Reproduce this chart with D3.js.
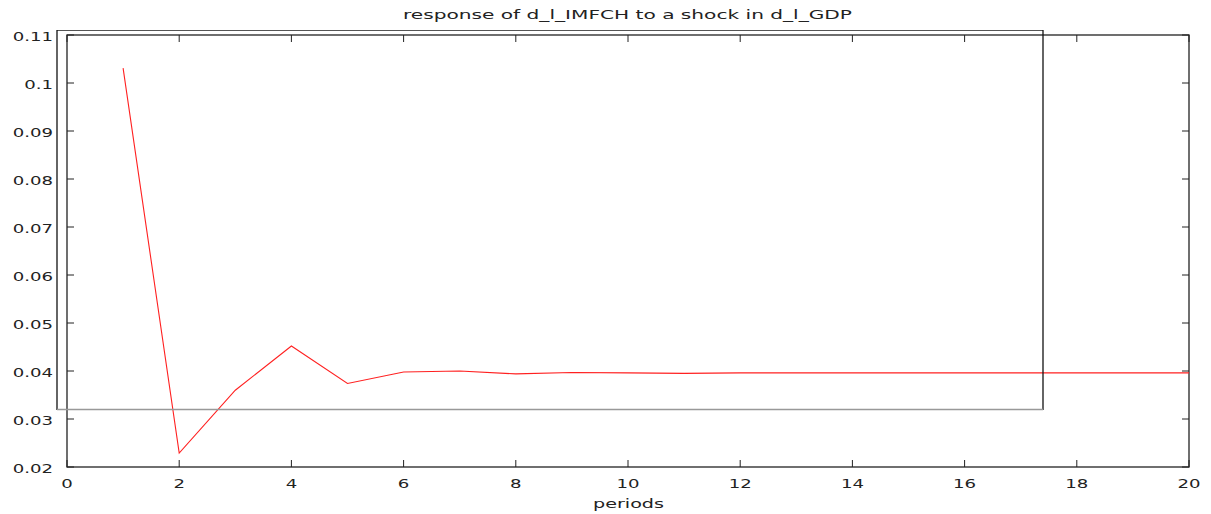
<!DOCTYPE html>
<html>
<head>
<meta charset="utf-8">
<script src="https://cdn.jsdelivr.net/npm/d3@7"></script>
<style>
  body { margin: 0; background: #fff; }
  text { font-family: "DejaVu Sans", sans-serif; fill: #222; }
</style>
</head>
<body>
<svg id="chart"></svg>
<script>
// Impulse response data (periods 1..20)
const periods = [1, 2, 3, 4, 5, 6, 7, 8, 9, 10, 11, 12, 13, 14, 15, 16, 17, 18, 19, 20];
const response = [0.1031, 0.0229, 0.0360, 0.0452, 0.0374, 0.0398, 0.0400, 0.0394, 0.0397, 0.0396,
                  0.0395, 0.0396, 0.0396, 0.0396, 0.0396, 0.0396, 0.0396, 0.0396, 0.0396, 0.0396];
const xTicks = [0, 2, 4, 6, 8, 10, 12, 14, 16, 18, 20];
const yTicks = [0.02, 0.03, 0.04, 0.05, 0.06, 0.07, 0.08, 0.09, 0.1, 0.11];

const W = 1211, H = 514;
const margin = {top: 35, right: 22, bottom: 47, left: 67};
const width = W - margin.left - margin.right,
      height = H - margin.top - margin.bottom;

const svg = d3.select("#chart").attr("width", W).attr("height", H);

const x = d3.scaleLinear().domain([0, 20]).range([margin.left, margin.left + width]);
const y = d3.scaleLinear().domain([0.02, 0.11]).range([margin.top + height, margin.top]);

// wide gnuplot-like lettering: stretch text horizontally
const sx = 1.45;
function label(px, py, str, anchor) {
  return svg.append("text")
    .attr("transform", `translate(${px},${py}) scale(${sx},1)`)
    .attr("text-anchor", anchor).attr("font-size", 12.5)
    .text(str);
}

// frame
svg.append("rect")
    .attr("x", margin.left).attr("y", margin.top)
    .attr("width", width).attr("height", height)
    .attr("fill", "none").attr("stroke", "#222").attr("stroke-width", 1.3);

const tick = 7;
// x ticks bottom + top, inward
xTicks.forEach(t => {
  svg.append("line").attr("x1", x(t)).attr("x2", x(t))
    .attr("y1", y(0.02)).attr("y2", y(0.02) - tick).attr("stroke", "#222");
  svg.append("line").attr("x1", x(t)).attr("x2", x(t))
    .attr("y1", y(0.11)).attr("y2", y(0.11) + tick).attr("stroke", "#222");
  label(x(t), y(0.02) + 20.5, t, "middle");
});

// y ticks left + right, inward
yTicks.forEach(t => {
  svg.append("line").attr("x1", x(0)).attr("x2", x(0) + tick)
    .attr("y1", y(t)).attr("y2", y(t)).attr("stroke", "#222");
  svg.append("line").attr("x1", x(20)).attr("x2", x(20) - tick)
    .attr("y1", y(t)).attr("y2", y(t)).attr("stroke", "#222");
  label(53, y(t) + 5.5, d3.format("~g")(t), "end");
});

// response line
const line = d3.line().x((d, i) => x(periods[i])).y(d => y(d));
svg.append("path").datum(response)
    .attr("d", line).attr("fill", "none")
    .attr("stroke", "#ff2020").attr("stroke-width", 1.1);

// stray box overlay
svg.append("line").attr("x1", 57).attr("x2", 1043).attr("y1", 30.5).attr("y2", 30.5)
    .attr("stroke", "#555").attr("stroke-width", 1.2);
svg.append("line").attr("x1", 57).attr("x2", 57).attr("y1", 30).attr("y2", 410)
    .attr("stroke", "#111").attr("stroke-width", 1.3);
svg.append("line").attr("x1", 1043).attr("x2", 1043).attr("y1", 30).attr("y2", 410)
    .attr("stroke", "#111").attr("stroke-width", 1.3);
svg.append("line").attr("x1", 57).attr("x2", 1043).attr("y1", 409.5).attr("y2", 409.5)
    .attr("stroke", "#999").attr("stroke-width", 1.5);

// title and axis label
svg.append("text").attr("x", 403).attr("y", 19)
    .attr("font-size", 12.5)
    .attr("textLength", 449).attr("lengthAdjust", "spacingAndGlyphs")
    .text("response of d_l_IMFCH to a shock in d_l_GDP");
svg.append("text").attr("x", 593).attr("y", 508)
    .attr("font-size", 12.5)
    .attr("textLength", 71).attr("lengthAdjust", "spacingAndGlyphs")
    .text("periods");
</script>
</body>
</html>
